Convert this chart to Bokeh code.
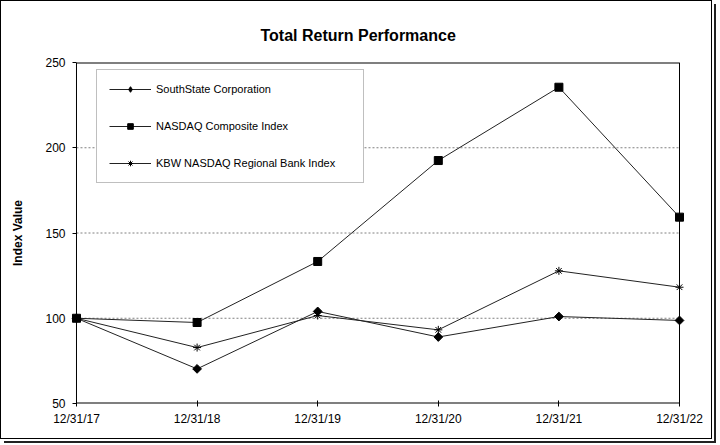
from bokeh.plotting import figure
from bokeh.models import FixedTicker, Legend, LegendItem, Range1d, Span
from bokeh.embed import file_html
from bokeh.resources import INLINE

dates = ["12/31/17", "12/31/18", "12/31/19", "12/31/20", "12/31/21", "12/31/22"]
southstate = [100, 70.3, 104.0, 89.0, 101.0, 98.7]
nasdaq = [100, 97.5, 133.3, 192.5, 235.5, 159.3]
kbw = [100, 82.8, 101.6, 93.2, 127.8, 118.2]
y_ticks = [50, 100, 150, 200, 250]

xs = list(range(len(dates)))
FONT = "Liberation Sans"
PAD = 0.058

p = figure(width=712, height=439, output_backend="svg", toolbar_location=None,
           x_range=Range1d(xs[0] - PAD, xs[-1] + PAD), y_range=Range1d(y_ticks[0], y_ticks[-1]),
           min_border_left=68, min_border_right=27, min_border_top=61, min_border_bottom=37,
           title="Total Return Performance")
p.styles = {"border": "1px solid black", "box-shadow": "2px 2px 0 0 white, 4px 4px 0 0 #222"}
p.title.align = "left"
p.title.offset = 191
p.title.text_font = FONT
p.title.text_font_size = "16px"
p.title.text_font_style = "bold"
p.title.text_color = "black"
p.title.standoff = 38

p.outline_line_color = None
p.xgrid.visible = False
p.ygrid.visible = False

# dotted horizontal grid between the first and last dates
inner = y_ticks[1:-1]
p.segment(x0=[xs[0]] * len(inner), x1=[xs[-1]] * len(inner), y0=inner, y1=inner,
          line_color="#808080", line_dash="2 2", line_width=1)
# plot-area border
p.segment(x0=[xs[0], xs[0]], x1=[xs[-1], xs[-1]], y0=[y_ticks[-1], y_ticks[0]], y1=[y_ticks[-1], y_ticks[0]],
          line_color="black", line_width=2)
p.add_layout(Span(location=xs[-1], dimension="height", line_color="black", line_width=1))
p.add_layout(Span(location=xs[0], dimension="height", line_color="black", line_width=1))

p.xaxis.ticker = FixedTicker(ticks=xs)
p.xaxis.major_label_overrides = {i: d for i, d in enumerate(dates)}
p.yaxis.ticker = FixedTicker(ticks=y_ticks)
for ax in (p.xaxis[0], p.yaxis[0]):
    ax.axis_line_color = None
    ax.major_tick_line_color = "black"
    ax.minor_tick_line_color = None
    ax.major_label_text_font = FONT
    ax.major_label_text_font_size = "12px"
    ax.major_label_text_color = "black"
p.xaxis.major_tick_in = 3
p.xaxis.major_tick_out = 3
p.xaxis.major_label_standoff = 5
p.yaxis.major_tick_in = 7
p.yaxis.major_tick_out = -3
p.yaxis.major_label_standoff = 4
p.yaxis.axis_label = "Index Value"
p.yaxis.axis_label_text_font = FONT
p.yaxis.axis_label_text_font_size = "12px"
p.yaxis.axis_label_text_font_style = "bold"
p.yaxis.axis_label_text_color = "black"
p.yaxis.axis_label_standoff = 17

lc = "#222222"
l1 = p.line(xs, southstate, line_color=lc, line_width=1)
l2 = p.line(xs, nasdaq, line_color=lc, line_width=1)
l3 = p.line(xs, kbw, line_color=lc, line_width=1)
# legend proxy for the diamond marker (sits beneath the first NASDAQ square)
d1 = p.scatter([xs[0]], [southstate[0]], marker="diamond", size=7, fill_color="black", line_color="black")
m1 = p.scatter(xs, southstate, marker="square", angle=0.785398, size=6.2, fill_color="black", line_color="black")
m3 = p.scatter(xs, kbw, marker="asterisk", size=8, line_color="black", line_width=1)
m2 = p.scatter(xs, nasdaq, marker="square", size=8, fill_color="black", line_color="black")

legend = Legend(items=[
    LegendItem(label="SouthState Corporation", renderers=[l1, d1]),
    LegendItem(label="NASDAQ Composite Index", renderers=[l2, m2]),
    LegendItem(label="KBW NASDAQ Regional Bank Index", renderers=[l3, m3]),
], location=(27, 220))
legend.label_text_font = FONT
legend.label_text_font_size = "11px"
legend.label_text_color = "black"
legend.padding = 12
legend.margin = 0
legend.glyph_height = 14
legend.label_height = 14
legend.glyph_width = 42
legend.label_standoff = 5
legend.label_width = 195
legend.spacing = 23
legend.border_line_color = "#808080"
legend.border_line_width = 1
legend.background_fill_color = "white"
legend.background_fill_alpha = 1
p.add_layout(legend, "center")

open("out.html", "w").write(file_html(p, INLINE))
